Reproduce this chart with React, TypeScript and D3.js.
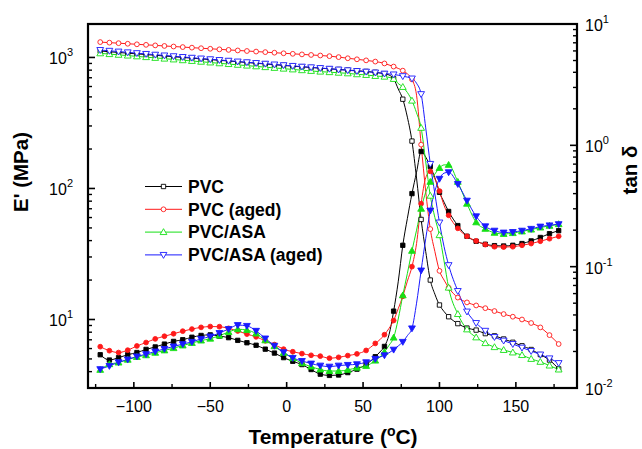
import React from "react";
import * as d3 from "d3";

// Temperature (°C): 6° steps, 3° steps through the glass transition
const temperature = [
  -122, -116, -110, -104, -98, -92, -86, -80, -74, -68,
  -62, -56, -50, -44, -38, -32, -26, -20, -14, -8,
  -2, 4, 10, 16, 22, 28, 34, 40, 46, 52, 58,
  61, 64, 67, 70, 73, 76, 79, 82, 85, 88, 91, 94, 97, 100, 103, 106,
  112, 118, 124, 130, 136, 142, 148, 154, 160, 166, 172, 178,
];

// Storage modulus E' (MPa)
const ePVC = [
  1120, 1105, 1092, 1078, 1065, 1052, 1039, 1026, 1013, 1000,
  988, 975, 963, 951, 939, 927, 915, 903, 892, 880,
  869, 858, 848, 838, 828, 819, 810, 801, 792, 782, 770,
  762, 752, 735, 688, 575, 480, 350, 230, 120, 58, 33, 20, 15.6, 12.9, 11.5, 10.5,
  9.3, 8.6, 8.3, 7.8, 7.5, 7.1, 6.7, 6.3, 5.9, 5.4, 4.9, 4.2,
];
const ePVCAged = [
  1310, 1297, 1285, 1272, 1260, 1248, 1236, 1224, 1212, 1200,
  1188, 1176, 1165, 1153, 1142, 1131, 1120, 1109, 1098, 1087,
  1076, 1066, 1055, 1045, 1035, 1023, 1006, 986, 968, 950, 930,
  918, 900, 876, 852, 825, 793, 750, 680, 515, 216, 95, 49, 33, 23.5, 20, 17.5,
  14.7, 13.5, 12.8, 12.2, 11.6, 11.0, 10.5, 10.0, 9.4, 8.7, 7.6, 6.5,
];
const ePVCASA = [
  1075, 1060, 1047, 1033, 1019, 1005, 992, 979, 965, 952,
  940, 927, 915, 902, 890, 878, 866, 855, 843, 832,
  821, 810, 799, 789, 779, 772, 764, 756, 744, 735, 722,
  718, 713, 705, 685, 632, 595, 540, 468, 378, 290, 160, 88, 60, 44, 28, 17.5,
  11, 8.4, 7.3, 6.6, 6.15, 5.85, 5.6, 5.35, 5.0, 4.75, 4.45, 4.15,
];
const ePVCASAAged = [
  1140, 1124, 1109, 1094, 1079, 1064, 1050, 1036, 1022, 1008,
  995, 982, 969, 956, 944, 931, 919, 907, 896, 884,
  873, 862, 851, 841, 830, 820, 808, 798, 788, 779, 767,
  760, 753, 748, 742, 732, 720, 708, 691, 635, 525, 290, 154, 91, 55, 36, 26,
  16.5, 11.5, 9.4, 8.2, 7.35, 6.9, 6.5, 6.1, 5.75, 5.4, 5.05, 4.65,
];

// Loss factor tan δ
const tanPVC = [
  0.0188, 0.0170, 0.0178, 0.0188, 0.0196, 0.0208, 0.0218, 0.0230, 0.0242, 0.0250,
  0.0262, 0.0271, 0.0274, 0.0268, 0.0260, 0.0247, 0.0236, 0.0225, 0.0209, 0.0194,
  0.0178, 0.0166, 0.0156, 0.0142, 0.0130, 0.0127, 0.0128, 0.0134, 0.0143, 0.0156, 0.0181,
  0.0198, 0.0220, 0.0275, 0.043, 0.075, 0.150, 0.25, 0.40, 0.60, 0.89, 0.80, 0.67, 0.54, 0.41, 0.34, 0.285,
  0.218, 0.178, 0.162, 0.153, 0.149, 0.148, 0.150, 0.155, 0.163, 0.174, 0.187, 0.198,
];
const tanPVCAged = [
  0.0219, 0.0203, 0.0196, 0.0205, 0.0222, 0.0237, 0.0254, 0.0267, 0.0280, 0.0294,
  0.0306, 0.0316, 0.0321, 0.0320, 0.0310, 0.0295, 0.0278, 0.0264, 0.0245, 0.0228,
  0.0209, 0.0199, 0.0192, 0.0186, 0.0183, 0.0176, 0.0179, 0.0185, 0.0191, 0.0204, 0.0233,
  0.025, 0.0275, 0.031, 0.036, 0.045, 0.057, 0.076, 0.100, 0.155, 0.33, 0.54, 0.61, 0.53, 0.42, 0.32, 0.265,
  0.207, 0.178, 0.163, 0.152, 0.146, 0.145, 0.146, 0.150, 0.155, 0.162, 0.170, 0.178,
];
const tanPVCASA = [
  0.0141, 0.0157, 0.0162, 0.0171, 0.0180, 0.0186, 0.0195, 0.0204, 0.0213, 0.0224,
  0.0235, 0.0246, 0.0255, 0.0270, 0.0289, 0.0305, 0.0300, 0.0281, 0.0247, 0.0221,
  0.0195, 0.0176, 0.0160, 0.0150, 0.0142, 0.0138, 0.0138, 0.0141, 0.0147, 0.0152, 0.0168,
  0.0180, 0.0198, 0.0225, 0.026, 0.037, 0.058, 0.088, 0.135, 0.20, 0.30, 0.41, 0.50, 0.58, 0.65, 0.69, 0.69,
  0.50, 0.33, 0.232, 0.205, 0.190, 0.186, 0.189, 0.195, 0.202, 0.210, 0.217, 0.224,
];
const tanPVCASAAged = [
  0.0143, 0.0152, 0.0163, 0.0172, 0.0182, 0.0190, 0.0200, 0.0210, 0.0220, 0.0230,
  0.0240, 0.0254, 0.0266, 0.0284, 0.0306, 0.0330, 0.0325, 0.0296, 0.0256, 0.0223,
  0.0197, 0.0177, 0.0167, 0.0159, 0.0153, 0.0150, 0.0153, 0.0155, 0.0157, 0.0163, 0.0174,
  0.0180, 0.0186, 0.0195, 0.0207, 0.0222, 0.0240, 0.0270, 0.031, 0.050, 0.093, 0.17, 0.29, 0.42, 0.53, 0.59, 0.60,
  0.48, 0.35, 0.26, 0.215, 0.198, 0.191, 0.193, 0.198, 0.205, 0.214, 0.219, 0.224,
];

const seriesNames = ["PVC", "PVC (aged)", "PVC/ASA", "PVC/ASA (aged)"];
const seriesColors = ["#000000", "#ff1a1a", "#16e016", "#1a1aff"];
const seriesSymbols = ["square", "circle", "triUp", "triDown"];
const modulusData = [ePVC, ePVCAged, ePVCASA, ePVCASAAged];
const tanData = [tanPVC, tanPVCAged, tanPVCASA, tanPVCASAAged];

const xMajorTicks = [-100, -50, 0, 50, 100, 150];
const xMinorTicks = [-125, -75, -25, 25, 75, 125, 175];
const leftMajor = [10, 100, 1000];
const rightMajor = [0.01, 0.1, 1, 10];

const FONT = "'Liberation Sans', Arial, Helvetica, sans-serif";
const W = 642;
const H = 449;
const L = 88, R = 577, T = 24, B = 388;

function symbolPath(kind: string): string {
  const gen = d3.symbol();
  if (kind === "square") return gen.type(d3.symbolSquare).size(19)()!;
  if (kind === "circle") return gen.type(d3.symbolCircle).size(18)()!;
  return gen.type(d3.symbolTriangle).size(20)()!;
}

function Marker({ kind, x, y, color, filled }: any) {
  const rot = kind === "triDown" ? ` rotate(180)` : "";
  const dy = kind === "triUp" ? 0.5 : kind === "triDown" ? -0.5 : 0;
  return (
    <path
      d={symbolPath(kind)}
      transform={`translate(${x},${y + dy})${rot}`}
      fill={filled ? color : "#ffffff"}
      stroke={color}
      strokeWidth={0.9}
    />
  );
}

export default function App() {
  const x = d3.scaleLinear().domain([-130, 190]).range([L, R]);
  const yL = d3.scaleLog().domain([3, 1800]).range([B, T]);
  const yR = d3.scaleLog().domain([0.01, 10]).range([B, T]);

  const lineL = d3
    .line<number>()
    .x((_, i) => x(temperature[i]))
    .y((d) => yL(d))
    .curve(d3.curveMonotoneX);
  const lineR = d3
    .line<number>()
    .x((_, i) => x(temperature[i]))
    .y((d) => yR(d))
    .curve(d3.curveMonotoneX);

  const onGrid = (t: number) => (t + 122) % 6 === 0;

  const leftMinor: number[] = [];
  for (const dec of [1, 10, 100, 1000]) {
    for (let k = 2; k <= 9; k++) {
      const v = dec * k;
      if (v >= 3 && v <= 1800 && !leftMajor.includes(v)) leftMinor.push(v);
    }
  }
  const rightMinor: number[] = [];
  for (const dec of [0.01, 0.1, 1]) {
    for (let k = 2; k <= 9; k++) rightMinor.push(dec * k);
  }

  const expOf = (v: number) => String(Math.round(Math.log10(v)));

  return (
    <div style={{ position: "absolute", left: 0, top: 0 }}>
      <svg width={W} height={H} style={{ display: "block", background: "#fff" }} fontFamily={FONT}>
        <rect x={0} y={0} width={W} height={H} fill="#fff" />

        {/* curves */}
        {seriesNames.map((name, s) => (
          <g key={name}>
            <path d={lineL(modulusData[s])!} fill="none" stroke={seriesColors[s]} strokeWidth={1} />
            <path d={lineR(tanData[s])!} fill="none" stroke={seriesColors[s]} strokeWidth={1} />
          </g>
        ))}
        {seriesNames.map((name, s) => (
          <g key={name + "-m"}>
            {modulusData[s].map((v, i) =>
              onGrid(temperature[i]) ? (
                <Marker key={"e" + i} kind={seriesSymbols[s]} x={x(temperature[i])} y={yL(v)} color={seriesColors[s]} filled={false} />
              ) : null
            )}
            {tanData[s].map((v, i) =>
              onGrid(temperature[i]) ? (
                <Marker key={"t" + i} kind={seriesSymbols[s]} x={x(temperature[i])} y={yR(v)} color={seriesColors[s]} filled={true} />
              ) : null
            )}
          </g>
        ))}

        {/* frame */}
        <rect x={L} y={T} width={R - L} height={B - T} fill="none" stroke="#000" strokeWidth={2.2} />

        {/* bottom ticks */}
        {xMajorTicks.map((t) => (
          <g key={"xm" + t}>
            <line x1={x(t)} x2={x(t)} y1={B} y2={B - 6} stroke="#000" strokeWidth={1.6} />
            <text x={x(t)} y={412} textAnchor="middle" fontSize={16} fill="#000">
              {t < 0 ? "\u2212" + Math.abs(t) : String(t)}
            </text>
          </g>
        ))}
        {xMinorTicks.map((t) => (
          <line key={"xn" + t} x1={x(t)} x2={x(t)} y1={B} y2={B - 4} stroke="#000" strokeWidth={1.4} />
        ))}

        {/* left axis */}
        {leftMajor.map((v) => (
          <g key={"lm" + v}>
            <line x1={L} x2={L + 7} y1={yL(v)} y2={yL(v)} stroke="#000" strokeWidth={1.6} />
            <text x={73} y={yL(v) + 7} textAnchor="end" fontSize={16} fill="#000">
              10<tspan dy={-8} fontSize={11}>{expOf(v)}</tspan>
            </text>
          </g>
        ))}
        {leftMinor.map((v) => (
          <line key={"ln" + v} x1={L} x2={L + 4} y1={yL(v)} y2={yL(v)} stroke="#000" strokeWidth={1.4} />
        ))}

        {/* right axis */}
        {rightMajor.map((v) => (
          <g key={"rm" + v}>
            <line x1={R} x2={R - 7} y1={yR(v)} y2={yR(v)} stroke="#000" strokeWidth={1.6} />
            <text x={585} y={yR(v) + 7} textAnchor="start" fontSize={16} fill="#000">
              10<tspan dy={-8} fontSize={11}>{expOf(v)}</tspan>
            </text>
          </g>
        ))}
        {rightMinor.map((v, i) => (
          <line key={"rn" + i} x1={R} x2={R - 4} y1={yR(v)} y2={yR(v)} stroke="#000" strokeWidth={1.4} />
        ))}

        {/* axis titles */}
        <text x={333} y={444} textAnchor="middle" fontSize={21} fontWeight="bold" fill="#000">
          Temperature (<tspan dy={-8} fontSize={14}>o</tspan><tspan dy={8}>C)</tspan>
        </text>
        <text
          transform={`translate(28,${172}) rotate(-90)`}
          textAnchor="middle"
          fontSize={20.5}
          fontWeight="bold"
          fill="#000"
        >
          E' (MPa)
        </text>
        <text
          transform={`translate(637,${170}) rotate(-90)`}
          textAnchor="middle"
          fontSize={20.5}
          fontWeight="bold"
          fill="#000"
        >
          tan δ
        </text>

        {/* legend */}
        {seriesNames.map((name, s) => {
          const yy = 186.5 + s * 22.8;
          return (
            <g key={"lg" + s}>
              <line x1={145} x2={182} y1={yy} y2={yy} stroke={seriesColors[s]} strokeWidth={1} />
              <Marker kind={seriesSymbols[s]} x={163.5} y={yy} color={seriesColors[s]} filled={false} />
              <text x={188} y={yy + 6.3} fontSize={17.5} fontWeight="bold" fill="#000">
                {name}
              </text>
            </g>
          );
        })}
      </svg>
    </div>
  );
}
